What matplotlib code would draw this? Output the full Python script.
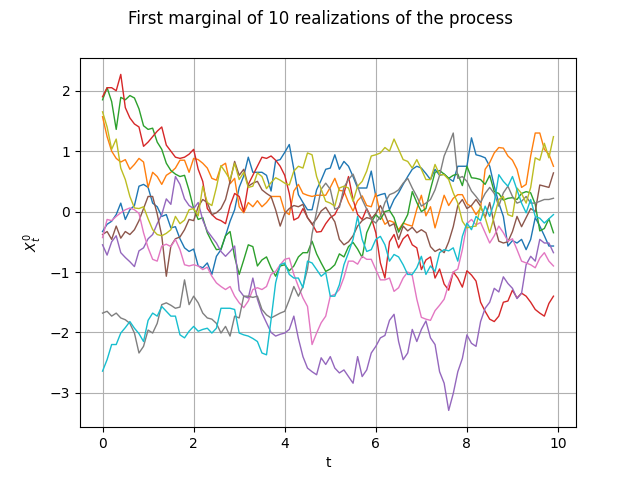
import numpy as np
import matplotlib
matplotlib.use("Agg")
import matplotlib.pyplot as plt

# time grid
t = np.arange(100) / 10.0

# realizations (one list per path)
path_blue = [-0.33, -0.21, -0.16, -0.05, 0.14, -0.13, 0.03, 0.10, 0.42, 0.45,
             0.40, 0.14, 0.08, -0.08, -0.05, -0.27, -0.25, -0.45, -0.60, -0.66,
             -0.62, -0.90, -0.93, -0.85, -1.04, -0.74, -0.63, -0.40, -0.16, 0.03,
             0.40, 0.59, 0.90, 0.65, 0.65, 0.65, 0.60, 0.34, 0.84, 0.86,
             0.98, 1.11, 0.70, 0.28, 0.15, 0.03, 0.03, 0.36, 0.52, 0.70,
             0.72, 0.94, 0.70, 0.83, 0.75, 0.58, 0.39, 0.39, 0.39, 0.67,
             0.25, 0.28, 0.30, 0.03, 0.20, 0.31, 0.45, 0.58, 0.70, 0.75,
             0.72, 0.63, 0.53, 0.70, 0.60, 0.62, 0.55, 0.50, 0.75, 0.75,
             0.75, 1.22, 0.94, 0.92, 0.89, 0.75, 0.42, 0.14, -0.08, -0.57,
             -0.48, -0.52, -0.46, -0.63, -0.46, -0.10, -0.24, -0.40, -0.57, -0.57]
path_orange = [1.57, 1.24, 1.00, 0.88, 0.82, 0.86, 0.70, 0.78, 0.88, 0.82,
               0.40, 0.65, 0.58, 0.45, 0.60, 0.65, 0.72, 0.85, 0.85, 0.65,
               0.88, 0.86, 0.80, 0.72, 0.55, 0.52, 0.75, 0.80, 0.46, 0.55,
               0.08, -0.02, 0.15, 0.08, 0.18, 0.08, 0.15, 0.25, 0.25, 0.25,
               0.00, -0.05, 0.34, 0.45, 0.30, 0.27, 0.25, 0.27, 0.27, 0.27,
               0.40, 0.55, 0.35, 0.34, 0.15, 0.01, 0.18, 0.26, 0.10, 0.08,
               0.30, -0.05, -0.21, -0.15, -0.18, -0.30, -0.19, -0.22, -0.24, 0.04,
               0.27, -0.07, 0.08, -0.27, 0.00, 0.27, 0.10, 0.22, 0.28, 0.28,
               0.13, 0.08, -0.05, 0.06, 0.70, 0.81, 0.97, 1.06, 1.05, 0.92,
               0.85, 0.70, 0.40, 0.45, 0.92, 1.30, 1.30, 1.03, 0.95, 0.75]
path_green = [1.85, 2.05, 1.82, 1.36, 1.89, 1.85, 1.92, 1.88, 1.70, 1.42,
              1.36, 1.38, 1.15, 1.03, 0.80, 0.68, 0.62, 0.58, 0.60, 0.35,
              0.05, -0.13, -0.10, -0.35, -0.50, -0.63, -0.62, -0.40, -0.33, -0.75,
              -1.04, -0.80, -0.55, -0.58, -0.90, -0.80, -0.75, -0.93, -1.07, -0.90,
              -0.88, -0.98, -0.90, -0.75, -0.68, -0.68, -0.49, -0.70, -0.85, -0.99,
              -0.95, -0.88, -0.70, -0.75, -0.58, -0.51, -0.62, -0.76, -0.35, -0.18,
              -0.05, -0.13, 0.00, 0.02, -0.10, -0.34, -0.20, -0.05, 0.33, 0.15,
              0.00, 0.05, 0.37, 0.65, 0.68, 0.62, 0.55, 0.60, 0.62, 0.43,
              0.75, 0.56, 0.55, 0.53, 0.45, 0.60, 0.33, 0.30, 0.19, 0.22,
              0.23, 0.20, 0.30, 0.33, 0.31, 0.12, -0.32, -0.28, -0.12, -0.35]
path_red = [1.90, 2.05, 2.05, 2.00, 2.27, 1.72, 1.55, 1.45, 1.40, 1.08,
            1.15, 1.24, 1.33, 1.40, 1.10, 1.00, 0.90, 0.88, 0.90, 0.95,
            1.03, 0.70, 0.50, 0.05, -0.05, -0.12, -0.15, -0.20, 0.10, 0.30,
            0.25, 0.00, 0.45, 0.60, 0.75, 0.90, 0.88, 0.92, 0.85, 0.75,
            0.60, 0.30, -0.14, -0.10, 0.05, -0.10, -0.20, -0.34, -0.33, -0.20,
            -0.10, -0.05, 0.10, 0.30, 0.58, 0.20, -0.05, -0.13, 0.05, -0.10,
            -0.35, -0.85, -1.10, -0.50, -0.38, -0.60, -0.45, -0.38, -0.55, -0.60,
            -0.96, -0.80, -0.75, -1.10, -0.95, -1.20, -1.30, -1.00, -1.10, -1.25,
            -0.98, -1.05, -1.15, -1.50, -1.65, -1.78, -1.82, -1.73, -1.50, -1.48,
            -1.30, -1.43, -1.35, -1.40, -1.50, -1.62, -1.68, -1.73, -1.52, -1.40]
path_purple = [-0.55, -0.72, -0.50, -0.40, -0.68, -0.76, -0.83, -0.91, -0.65, -0.60,
               -0.45, -0.38, -0.20, -0.05, 0.21, 0.12, 0.58, 0.45, 0.21, 0.10,
               0.05, 0.15, -0.14, -0.32, -0.42, -0.52, -0.66, -0.74, -0.66, -0.57,
               -1.30, -1.40, -1.43, -1.10, -1.45, -1.68, -1.84, -2.00, -2.06, -2.03,
               -2.01, -1.95, -1.73, -2.10, -2.40, -2.59, -2.65, -2.70, -2.42, -2.53,
               -2.40, -2.59, -2.67, -2.62, -2.73, -2.84, -2.40, -2.73, -2.62, -2.34,
               -2.23, -2.09, -2.05, -1.80, -1.70, -2.15, -2.45, -2.34, -1.95, -2.15,
               -1.95, -1.81, -2.09, -2.20, -2.65, -2.84, -3.29, -3.01, -2.65, -2.43,
               -2.04, -2.18, -2.23, -1.82, -1.60, -1.50, -1.27, -1.33, -1.08, -1.19,
               -1.27, -1.44, -1.35, -0.88, -0.74, -0.82, -0.46, -0.52, -0.52, -0.68]
path_brown = [-0.38, -0.33, -0.46, -0.24, -0.44, -0.33, -0.38, -0.30, -0.15, 0.05,
              0.25, 0.25, -0.04, -0.40, -1.07, -0.57, -0.45, -0.42, -0.30, -0.13,
              -0.15, 0.08, 0.20, 0.15, -0.05, -0.02, 0.05, 0.20, 0.50, 0.83,
              0.60, 0.70, 0.42, 0.47, 0.50, 0.36, 0.30, 0.25, 0.03, -0.24,
              -0.03, 0.05, 0.10, 0.08, 0.12, -0.10, -0.21, -0.12, 0.01, 0.07,
              -0.05, -0.17, -0.46, -0.55, -0.50, -0.40, -0.24, -0.15, -0.10, -0.12,
              -0.03, 0.10, -0.05, -0.24, -0.20, -0.46, -0.24, -0.32, -0.26, -0.35,
              -0.30, -0.35, -0.58, -0.66, -0.62, -0.68, -0.50, -0.25, 0.10, 0.20,
              0.05, 0.10, 0.20, 0.09, -0.10, 0.15, -0.21, -0.49, -0.52, -0.50,
              -0.33, -0.08, -0.25, -0.10, 0.05, 0.00, 0.44, 0.42, 0.40, 0.64]
path_pink = [-0.43, -0.13, -0.15, -0.08, -0.02, 0.03, 0.06, 0.03, -0.03, -0.35,
             -0.60, -0.79, -0.82, -0.57, -0.54, -0.58, -0.46, -0.63, -0.88, -0.90,
             -0.88, -0.90, -0.96, -0.92, -1.07, -1.18, -1.24, -1.29, -1.24, -1.40,
             -1.51, -1.59, -1.48, -1.29, -1.26, -1.29, -1.24, -1.04, -0.99, -0.88,
             -0.79, -0.77, -1.04, -1.24, -1.43, -1.57, -2.20, -2.01, -1.84, -1.73,
             -1.40, -1.37, -1.29, -1.09, -0.82, -0.82, -0.87, -0.74, -0.79, -0.79,
             -0.96, -1.13, -1.13, -1.10, -1.32, -1.26, -1.10, -1.00, -1.06, -1.45,
             -1.75, -1.78, -1.80, -1.64, -1.55, -1.45, -1.20, -1.00, -0.95, -0.63,
             -0.20, -0.13, -0.22, -0.18, -0.35, -0.52, -0.40, -0.24, -0.35, -0.49,
             -0.45, -0.63, -0.82, -0.85, -0.88, -0.93, -0.77, -0.68, -0.82, -0.90]
path_gray = [-1.68, -1.65, -1.73, -1.68, -1.76, -1.79, -1.85, -2.01, -2.34, -2.23,
             -1.96, -2.01, -1.85, -1.54, -1.51, -1.55, -1.60, -1.58, -1.13, -1.54,
             -1.40, -1.51, -1.68, -1.76, -1.78, -1.85, -2.01, -1.90, -2.06, -1.73,
             -1.76, -1.40, -1.40, -1.42, -1.40, -1.62, -1.71, -1.76, -1.72, -1.68,
             -1.65, -1.46, -1.24, -1.40, -1.24, -0.95, -0.37, 0.00, 0.37, 0.47,
             0.37, 0.04, 0.07, 0.40, 0.53, 0.62, 0.42, 0.20, 0.04, -0.13,
             -0.19, -0.08, 0.15, 0.28, 0.31, 0.36, 0.47, 0.55, 0.39, 0.25,
             0.09, 0.14, 0.20, 0.36, 0.60, 0.92, 1.10, 1.30, 0.55, 0.58,
             0.50, 0.34, 0.25, 0.15, 0.30, 0.40, 0.30, 0.09, 0.31, 0.42,
             0.25, 0.14, 0.17, 0.25, 0.14, 0.14, 0.17, 0.20, 0.20, 0.22]
path_olive = [1.65, 1.40, 1.03, 1.20, 0.72, 0.53, 0.25, 0.06, 0.05, 0.08,
              -0.12, -0.30, -0.38, -0.40, -0.36, -0.30, -0.08, -0.20, -0.14, 0.03,
              0.05, -0.07, 0.42, 0.15, 0.10, 0.40, 0.76, 0.65, 0.53, 0.80,
              0.53, 0.65, 0.40, 0.42, 0.64, 0.58, 0.38, 0.48, 0.56, 0.52,
              0.47, 0.44, 0.67, 0.75, 0.72, 0.97, 0.94, 0.58, 0.37, 0.17,
              0.14, 0.09, 0.39, 0.42, 0.39, 0.17, 0.42, 0.50, 0.67, 0.92,
              0.94, 0.97, 1.06, 1.00, 1.20, 1.03, 0.86, 0.83, 0.72, 0.86,
              0.70, 0.53, 0.53, 0.78, 0.61, 0.61, 0.53, 0.31, 0.14, -0.16,
              -0.27, -0.25, -0.24, 0.09, -0.10, -0.35, -0.08, 0.20, 0.25, -0.05,
              -0.08, 0.39, 0.30, 0.14, 0.40, 0.89, 0.85, 1.13, 0.89, 1.24]
path_cyan = [-2.64, -2.45, -2.20, -2.20, -2.01, -1.92, -1.82, -1.93, -2.02, -2.15,
             -1.80, -1.68, -1.73, -1.57, -1.65, -1.73, -1.73, -2.04, -2.09, -1.98,
             -1.90, -1.98, -1.95, -1.93, -2.01, -1.93, -1.60, -1.60, -1.60, -1.62,
             -2.01, -2.04, -2.06, -2.10, -2.15, -2.34, -2.37, -1.79, -1.18, -0.88,
             -0.85, -1.04, -1.10, -1.10, -1.26, -0.82, -0.85, -0.96, -1.07, -1.01,
             -1.40, -1.40, -1.21, -0.88, -0.68, -0.46, -0.08, -0.46, -0.66, -0.63,
             -0.46, -0.41, -0.55, -0.82, -0.71, -0.75, -0.88, -1.04, -1.04, -0.93,
             -0.74, -1.04, -0.90, -0.99, -0.68, -0.63, -0.65, -0.60, -0.82, -0.41,
             -0.19, -0.30, -0.08, -0.15, 0.09, -0.08, 0.15, 0.61, 0.50, 0.42,
             0.58, 0.36, 0.14, -0.02, 0.20, -0.08, -0.11, -0.19, -0.12, -0.05]

paths = [path_blue, path_orange, path_green, path_red, path_purple,
         path_brown, path_pink, path_gray, path_olive, path_cyan]

fig, ax = plt.subplots(figsize=(6.4, 4.8), dpi=100)
for p in paths:
    ax.plot(t, p, linewidth=1.0)

fig.suptitle("First marginal of 10 realizations of the process")
ax.set_xlabel("t")
ax.set_ylabel(r"$X_t^0$")
ax.grid(True)

fig.savefig("out.png")
